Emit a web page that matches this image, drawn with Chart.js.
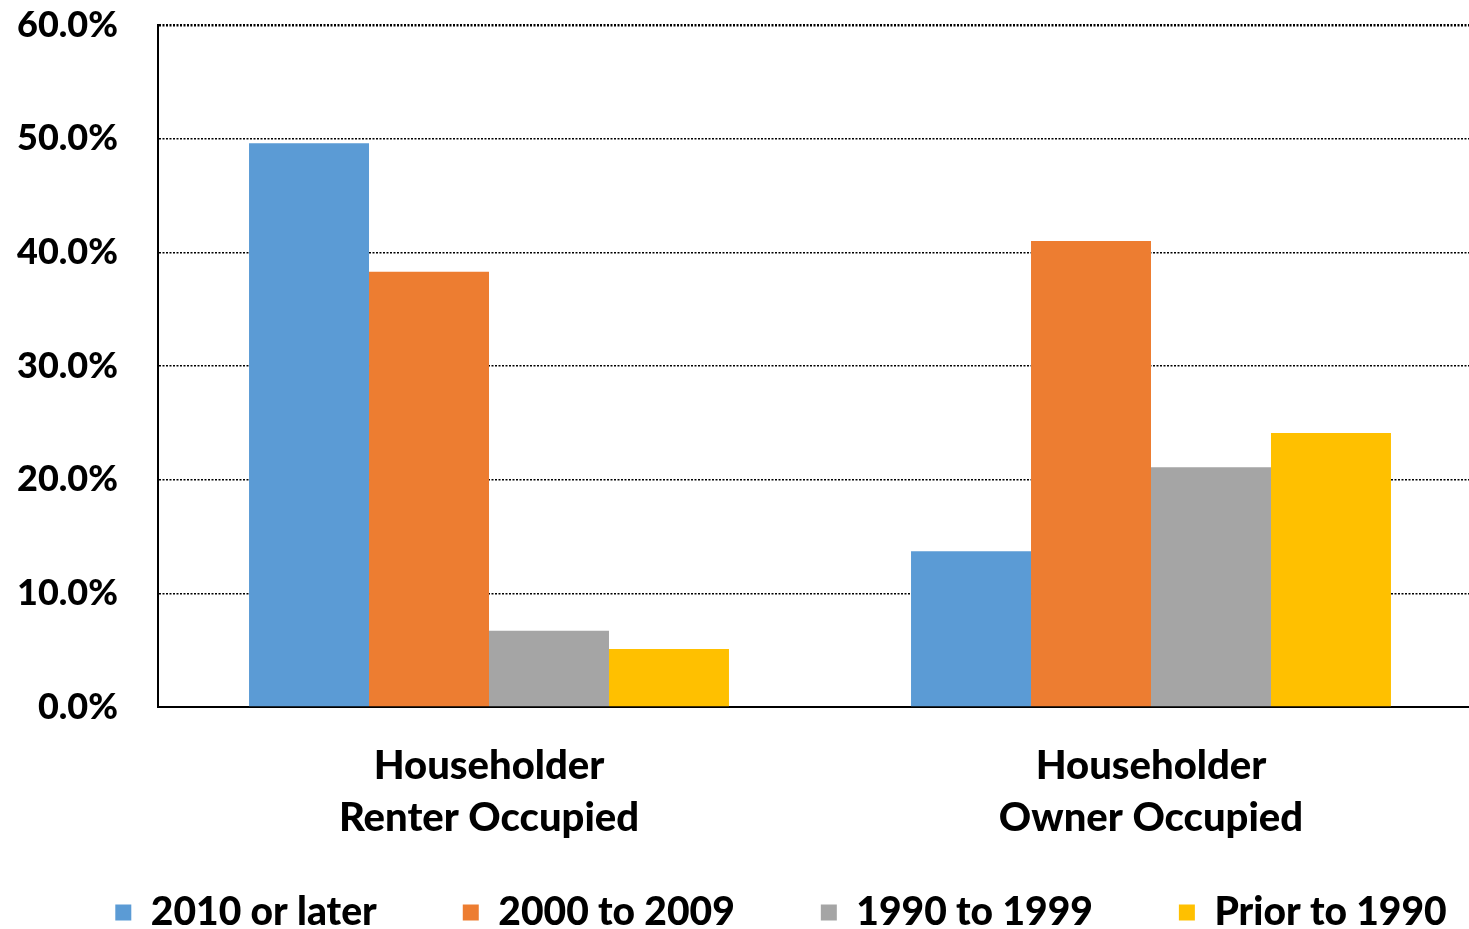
<!DOCTYPE html>
<html><head><meta charset="utf-8">
<script src="https://cdn.jsdelivr.net/npm/chart.js@4.4.0/dist/chart.umd.min.js"></script>
<style>
html,body{margin:0;padding:0;background:#fff;overflow:hidden;width:1469px;height:929px}
#wrap{position:absolute;left:0;top:0;width:1482px;height:942px}
</style></head>
<body>
<div id="wrap"><canvas id="c"></canvas></div>
<script>
const categories = [["Householder","Renter Occupied"],["Householder","Owner Occupied"]];
const seriesNames = ["2010 or later","2000 to 2009","1990 to 1999","Prior to 1990"];
const s2010 = [49.6, 13.7];
const s2000 = [38.3, 41.0];
const s1990 = [6.7, 21.1];
const sPrior = [5.1, 24.1];
const yTicks = [0,10,20,30,40,50,60];
const colors = ["#5B9BD5","#ED7D31","#A5A5A5","#FFC000"];

const FONT = "Lato, 'Open Sans', sans-serif";
const data = {
  labels: categories,
  datasets: [s2010,s2000,s1990,sPrior].map((d,i)=>({
    label: seriesNames[i], data: d, backgroundColor: colors[i], borderWidth:0,
    categoryPercentage: 0.725, barPercentage: 1.0
  }))
};
new Chart(document.getElementById('c'), {
  type: 'bar',
  data,
  options: {
    responsive: true, maintainAspectRatio: false, animation: false,
    layout: {padding: {top: 25, left: 0, right: 0, bottom: 0}},
    plugins: {
      tooltip: {enabled:false},
      legend: {
        position: 'bottom',
        labels: {
          color: '#000', font: {family: FONT, size: 39, weight: 900},
          boxWidth: 16, boxHeight: 16, padding: 8,
          generateLabels: (chart) => chart.data.datasets.map((ds,i)=>({
            text: ds.label + (i<3 ? '\u2003\u2003\u2002' : ''), fillStyle: ds.backgroundColor, strokeStyle: ds.backgroundColor,
            lineWidth: 0, datasetIndex: i, fontColor:'#000'
          }))
        }
      }
    },
    scales: {
      x: {
        grid: {display: false, drawTicks: false},
        border: {display: true, color: '#000', width: 2},
        ticks: {color: '#000', padding: 33, font: {family: FONT, size: 40, weight: 900, lineHeight: 1.3}},
        afterFit: s => { s.height = 178; s.paddingLeft = 0; s.paddingRight = 0; }
      },
      y: {
        min: 0, max: 60,
        afterBuildTicks: s => { s.ticks = yTicks.map(v=>({value:v})); },
        grid: {color: '#000', lineWidth: ctx => (ctx.tick && ctx.tick.value === 60 ? 2.5 : 1.5), drawTicks: false},
        border: {display: true, color: '#000', width: 2, dash: [2,1.5]},
        ticks: {color: '#000', padding: 40, font: {family: FONT, size: 36, weight: 900},
          callback: v => v.toFixed(1) + '%'},
        afterFit: s => { s.width = 158; s.paddingTop = 0; s.paddingBottom = 0; }
      }
    }
  },
  plugins: [{
    id: 'legendShift',
    afterLayout(chart){ if (chart.legend) { chart.legend.left += 80; } }
  }]
});
</script>
</body></html>
